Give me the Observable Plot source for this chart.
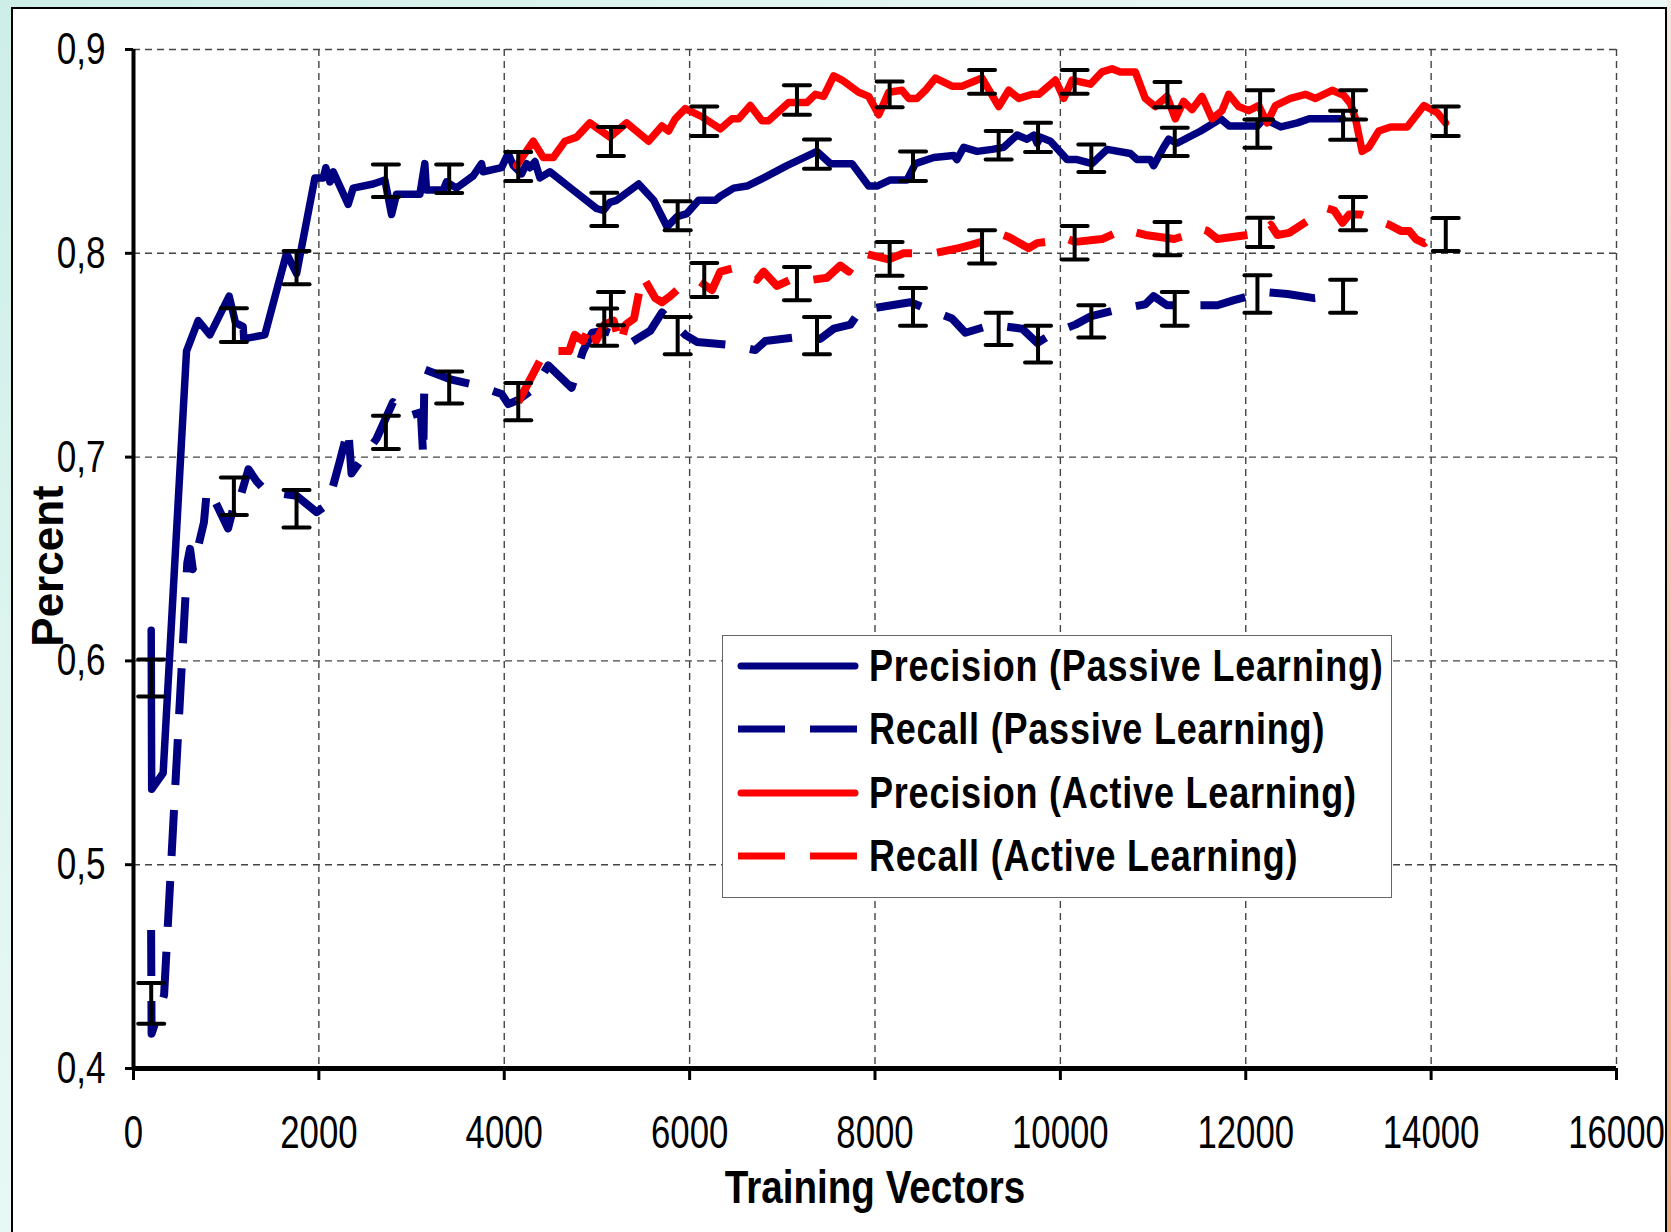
<!DOCTYPE html>
<html><head><meta charset="utf-8">
<script src="https://cdn.jsdelivr.net/npm/d3@7"></script>
<script src="https://cdn.jsdelivr.net/npm/@observablehq/plot@0.6"></script>
<style>
html,body{margin:0;padding:0;width:1671px;height:1232px;overflow:hidden;}
body{position:relative;background:linear-gradient(135deg,#cdeee7 0%,#e6f7f3 35%,#f3fbf9 100%);font-family:'Liberation Sans',Arial,sans-serif;}
#frame{position:absolute;left:11px;top:7px;width:1652px;height:1240px;background:#fff;border:2px solid #000;}
#edge{position:absolute;left:1667px;top:0;width:4px;height:1232px;background:linear-gradient(#f3e9df,#eaa57b);}
#chart{position:absolute;left:0;top:0;}
#legend{position:absolute;left:722px;top:635px;width:668px;height:261px;border:1.5px solid #666;background:#fff;}
.row{position:absolute;left:0;height:60px;display:flex;align-items:center;white-space:nowrap;}
.row svg{margin-left:14px;display:block;flex:none;}
.row span{font-weight:bold;font-size:45px;margin-left:10px;white-space:nowrap;color:#000;display:inline-block;transform:scaleX(0.8);transform-origin:left center;letter-spacing:1px;}
</style></head>
<body>
<div id="frame"></div>
<div id="edge"></div>
<div id="chart"></div>
<div id="legend"></div>
<script>
// ---- data ----
const xTicks = [0, 2000, 4000, 6000, 8000, 10000, 12000, 14000, 16000];
const yTicks = [0.4, 0.5, 0.6, 0.7, 0.8, 0.9];
const xLabel = "Training Vectors";
const yLabel = "Percent";
const seriesNames = ["Precision (Passive Learning)", "Recall (Passive Learning)", "Precision (Active Learning)", "Recall (Active Learning)"];
const seriesColors = ["#000080", "#000080", "#ff0000", "#ff0000"];
const seriesDashed = [false, true, false, true];

const precisionPassive = [[191,0.615],[196,0.537],[320,0.545],[572,0.752],[698,0.767],[824,0.760],[1032,0.779],[1100,0.766],[1183,0.764],[1190,0.758],[1417,0.760],[1651,0.800],[1759,0.790],[1957,0.837],[2047,0.837],[2075,0.842],[2119,0.835],[2155,0.840],[2316,0.824],[2370,0.832],[2586,0.834],[2712,0.836],[2784,0.819],[2838,0.829],[3090,0.829],[3143,0.844],[3161,0.831],[3341,0.831],[3377,0.835],[3485,0.832],[3665,0.838],[3755,0.844],[3773,0.840],[3971,0.842],[4043,0.849],[4097,0.843],[4187,0.839],[4241,0.844],[4277,0.842],[4331,0.845],[4385,0.837],[4493,0.840],[4744,0.831],[4996,0.822],[5068,0.821],[5140,0.825],[5212,0.826],[5450,0.834],[5612,0.826],[5756,0.813],[5864,0.818],[5971,0.8195],[6097,0.826],[6277,0.826],[6331,0.828],[6475,0.832],[6619,0.833],[6799,0.837],[7050,0.843],[7374,0.850],[7518,0.844],[7752,0.844],[7932,0.833],[8022,0.833],[8166,0.836],[8346,0.836],[8436,0.844],[8634,0.847],[8849,0.848],[8885,0.846],[8957,0.852],[9101,0.850],[9263,0.851],[9389,0.852],[9533,0.858],[9641,0.856],[9713,0.858],[9749,0.854],[9785,0.857],[9893,0.855],[10072,0.846],[10180,0.846],[10342,0.844],[10504,0.851],[10755,0.849],[10827,0.846],[10970,0.846],[11006,0.843],[11114,0.852],[11168,0.856],[11258,0.854],[11514,0.860],[11730,0.866],[11820,0.8625],[12126,0.8625],[12198,0.866],[12378,0.862],[12558,0.864],[12684,0.866],[13043,0.866]];

const recallPassive = [[190,0.468],[195,0.417],[330,0.436],[580,0.648],[610,0.655],[640,0.645],[760,0.668],[790,0.683],[820,0.684],[1020,0.665],[1110,0.681],[1150,0.680],[1240,0.694],[1330,0.688],[1435,0.683],[1760,0.681],[1975,0.673],[2100,0.677],[2226,0.698],[2316,0.714],[2352,0.692],[2622,0.709],[2800,0.727],[2856,0.724],[2964,0.720],[3100,0.722],[3126,0.700],[3140,0.743],[3432,0.738],[3720,0.735],[3971,0.731],[4043,0.726],[4150,0.728],[4331,0.734],[4475,0.745],[4727,0.734],[4850,0.752],[4950,0.761],[5080,0.762],[5200,0.760],[5378,0.7565],[5576,0.762],[5702,0.771],[5953,0.760],[6079,0.7565],[6439,0.755],[6709,0.7525],[6817,0.757],[7176,0.759],[7410,0.758],[7554,0.763],[7734,0.765],[7842,0.772],[8112,0.774],[8382,0.776],[8544,0.773],[8831,0.768],[8975,0.761],[9263,0.765],[9587,0.763],[9749,0.756],[9929,0.761],[10162,0.765],[10324,0.769],[10629,0.7725],[10917,0.775],[11006,0.779],[11150,0.7745],[11384,0.7745],[11694,0.7745],[11874,0.777],[12198,0.781],[12450,0.780],[12738,0.778],[12953,0.779]];

const precisionActive = [[4133,0.843],[4313,0.855],[4421,0.847],[4529,0.847],[4655,0.855],[4781,0.857],[4924,0.864],[5140,0.857],[5320,0.864],[5557,0.855],[5701,0.8625],[5773,0.860],[5845,0.866],[5953,0.871],[6133,0.867],[6331,0.861],[6457,0.866],[6529,0.866],[6655,0.8725],[6780,0.865],[6852,0.865],[7068,0.874],[7266,0.874],[7356,0.878],[7446,0.877],[7554,0.887],[7644,0.885],[7824,0.879],[7932,0.877],[8040,0.868],[8148,0.879],[8292,0.880],[8364,0.876],[8454,0.876],[8544,0.880],[8652,0.886],[8831,0.882],[8939,0.882],[9155,0.886],[9335,0.872],[9443,0.880],[9551,0.876],[9695,0.878],[9767,0.878],[9947,0.885],[10037,0.876],[10127,0.885],[10325,0.883],[10450,0.889],[10558,0.8905],[10647,0.889],[10808,0.889],[10916,0.876],[11024,0.872],[11150,0.877],[11240,0.866],[11330,0.8745],[11420,0.8705],[11528,0.877],[11636,0.866],[11744,0.870],[11816,0.878],[11924,0.872],[12032,0.870],[12140,0.8725],[12230,0.864],[12320,0.8725],[12482,0.876],[12644,0.878],[12752,0.876],[12932,0.880],[13058,0.8775],[13130,0.8735],[13184,0.866],[13256,0.850],[13328,0.852],[13436,0.860],[13562,0.862],[13742,0.862],[13922,0.8725],[14066,0.869],[14156,0.864]];

const recallActive = [[4151,0.727],[4440,0.752],[4700,0.752],[4760,0.760],[4850,0.757],[4940,0.766],[4990,0.757],[5080,0.765],[5180,0.767],[5250,0.755],[5310,0.765],[5400,0.768],[5490,0.789],[5630,0.778],[5702,0.776],[5791,0.779],[5864,0.782],[6115,0.786],[6241,0.782],[6331,0.791],[6457,0.7925],[6727,0.787],[6799,0.791],[6943,0.784],[7087,0.787],[7158,0.786],[7482,0.788],[7626,0.794],[7716,0.791],[7824,0.799],[7878,0.800],[8148,0.797],[8310,0.800],[8634,0.800],[8903,0.8025],[9029,0.804],[9173,0.806],[9317,0.810],[9443,0.808],[9659,0.8025],[9749,0.805],[9911,0.806],[10019,0.808],[10163,0.8056],[10450,0.807],[10648,0.811],[10701,0.812],[10791,0.8105],[10917,0.809],[11226,0.807],[11370,0.809],[11514,0.812],[11586,0.811],[11694,0.807],[12018,0.809],[12162,0.810],[12270,0.814],[12342,0.809],[12468,0.810],[12774,0.819],[12882,0.822],[12954,0.821],[13044,0.815],[13116,0.819],[13242,0.819],[13547,0.814],[13673,0.811],[13763,0.811],[13835,0.807],[13925,0.805],[14033,0.809]];

// error bars: [x, low, high]
const errPrecisionPassive = [[191,0.5825,0.6007],[1083,0.7565,0.773],[1759,0.7848,0.8011],[2723,0.8276,0.8436],[3406,0.8296,0.8436],[4151,0.8355,0.8497],[5079,0.8134,0.8297],[5871,0.8113,0.8255],[7374,0.8415,0.8559],[8410,0.8355,0.85],[9334,0.846,0.86],[9759,0.8497,0.864],[10334,0.8399,0.8534],[11234,0.8477,0.8616],[12126,0.8518,0.8657],[13050,0.8557,0.870]];
const errRecallPassive = [[191,0.422,0.442],[1083,0.6716,0.690],[1759,0.6654,0.6838],[2723,0.704,0.7203],[3406,0.7263,0.742],[4151,0.7181,0.7364],[5079,0.7546,0.7729],[5871,0.7505,0.7688],[7374,0.7505,0.7688],[8410,0.7644,0.783],[9334,0.755,0.7708],[9759,0.7464,0.7644],[10334,0.7587,0.7745],[11234,0.7644,0.781],[12126,0.7708,0.7892],[13050,0.7708,0.787]];
const errPrecisionActive = [[5151,0.8477,0.862],[6158,0.8575,0.872],[7158,0.868,0.8824],[8158,0.8717,0.8843],[9155,0.8783,0.890],[10154,0.8783,0.890],[11155,0.8717,0.884],[12155,0.8657,0.880],[13158,0.8657,0.880],[14158,0.8575,0.872]];
const errRecallActive = [[5151,0.7647,0.781],[6158,0.7786,0.7953],[7158,0.777,0.7933],[8158,0.789,0.8056],[9155,0.795,0.8113],[10154,0.797,0.8134],[11155,0.799,0.8154],[12155,0.8031,0.8175],[13158,0.8113,0.8276],[14158,0.8011,0.8173]];

// ---- build ----
const seriesData = [precisionPassive, recallPassive, precisionActive, recallActive];
const errData = [...errPrecisionPassive, ...errRecallPassive, ...errPrecisionActive, ...errRecallActive]
  .map(([x, lo, hi]) => ({x, lo, hi}));
const capSymbol = {draw(ctx, size) { const r = Math.sqrt(size / Math.PI); ctx.moveTo(-r, 0); ctx.lineTo(r, 0); }};
const font = "'Liberation Sans',Arial,sans-serif";

const lineMarks = seriesData.map((arr, i) => Plot.line(arr, {
  x: d => d[0], y: d => d[1],
  stroke: seriesColors[i],
  strokeWidth: seriesDashed[i] ? 8 : 7.5,
  strokeDasharray: seriesDashed[i] ? "46,25" : null,
  strokeLinejoin: "round",
  strokeLinecap: seriesDashed[i] ? "butt" : "round"
}));

const chart = Plot.plot({
  width: 1671, height: 1232,
  marginLeft: 133, marginRight: 55, marginTop: 49, marginBottom: 164,
  style: {background: "transparent", fontFamily: font, fontSize: "45px", color: "#000", overflow: "visible"},
  x: {domain: [0, 16000], axis: null},
  y: {domain: [0.4, 0.9], axis: null},
  marks: [
    Plot.gridY(yTicks.filter(d => d > 0.4), {stroke: "#444", strokeOpacity: 1, strokeWidth: 1.4, strokeDasharray: "7,5"}),
    Plot.gridX(xTicks.filter(d => d > 0), {stroke: "#444", strokeOpacity: 1, strokeWidth: 1.4, strokeDasharray: "7,5"}),
    Plot.axisY(yTicks, {tickSize: 8, tickPadding: 20, strokeWidth: 3, fontSize: 45, tickFormat: d => d.toFixed(1).replace(".", ","), label: null}),
    Plot.axisX(xTicks, {tickSize: 12, tickPadding: 34, strokeWidth: 3, fontSize: 47, tickFormat: d => String(d), label: null}),
    Plot.ruleX([0], {stroke: "#000", strokeWidth: 4}),
    Plot.ruleY([0.4], {stroke: "#000", strokeWidth: 5}),
    ...lineMarks,
    Plot.ruleX(errData, {x: "x", y1: "lo", y2: "hi", stroke: "#000", strokeWidth: 4}),
    Plot.dot(errData, {x: "x", y: "lo", r: 13, symbol: capSymbol, stroke: "#000", strokeWidth: 4, fill: "none", strokeLinecap: "round"}),
    Plot.dot(errData, {x: "x", y: "hi", r: 13, symbol: capSymbol, stroke: "#000", strokeWidth: 4, fill: "none", strokeLinecap: "round"}),
    Plot.text([xLabel], {frameAnchor: "bottom", dy: 120, lineAnchor: "middle", textAnchor: "middle", fontWeight: "bold", fontSize: 46, fill: "#000"}),
    Plot.text([yLabel], {frameAnchor: "left", dx: -85, dy: 7, rotate: -90, textAnchor: "middle", lineAnchor: "middle", fontWeight: "bold", fontSize: 44, fill: "#000"})
  ]
});
document.getElementById("chart").appendChild(chart);

// horizontal squish of texts, as in the (horizontally compressed) original
function squishEl(t, sx) {
  const tr = t.getAttribute("transform") || "";
  t.setAttribute("transform", (tr + ` scale(${sx},1)`).trim());
}
chart.querySelectorAll('g[aria-label="x-axis tick label"] text').forEach(t => squishEl(t, 0.74));
chart.querySelectorAll('g[aria-label="y-axis tick label"] text').forEach(t => squishEl(t, 0.78));
chart.querySelectorAll('text').forEach(t => { if (t.textContent === xLabel) squishEl(t, 0.84); });

// legend
const legend = document.getElementById("legend");
const rowCenters = [30, 93, 157, 220];
seriesNames.forEach((name, i) => {
  const row = document.createElement("div");
  row.className = "row";
  row.style.top = (rowCenters[i] - 30) + "px";
  const dash = seriesDashed[i] ? ' stroke-dasharray="47,25"' : '';
  const cap = seriesDashed[i] ? 'butt' : 'round';
  row.innerHTML = `<svg width="122" height="20"><line x1="${seriesDashed[i] ? 1 : 4}" y1="10" x2="${seriesDashed[i] ? 121 : 118}" y2="10" stroke="${seriesColors[i]}" stroke-width="7" stroke-linecap="${cap}"${dash}/></svg><span>${name}</span>`;
  legend.appendChild(row);
});
</script>
</body></html>
